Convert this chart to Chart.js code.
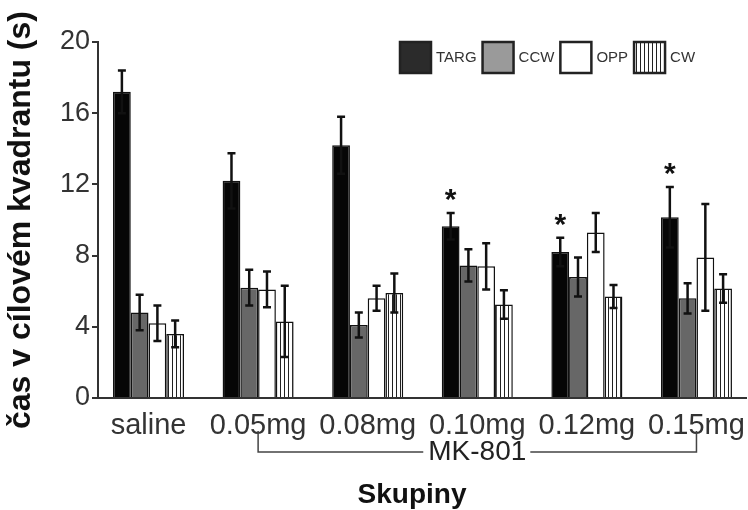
<!DOCTYPE html>
<html>
<head>
<meta charset="utf-8">
<script src="https://cdn.jsdelivr.net/npm/chart.js@4/dist/chart.umd.min.js"></script>
<style>
  html, body { margin: 0; padding: 0; background: #fff; overflow: hidden; }
  canvas { display: block; }
</style>
</head>
<body>
<canvas id="chart" width="748" height="510"></canvas>
<script>
// groups on the x axis
const groups = ['saline', '0.05mg', '0.08mg', '0.10mg', '0.12mg', '0.15mg'];
const seriesNames = ['TARG', 'CCW', 'OPP', 'CW'];

// means and error bars (s)
const targ = [17.2, 12.2, 14.2, 9.65, 8.2, 10.15];
const targErr = [1.2, 1.55, 1.6, 0.75, 0.8, 1.7];
const ccw = [4.8, 6.2, 4.1, 7.45, 6.8, 5.6];
const ccwErr = [1.0, 1.0, 0.7, 0.9, 1.1, 0.85];
const opp = [4.2, 6.1, 5.6, 7.4, 9.3, 7.9];
const oppErr = [1.0, 1.0, 0.7, 1.3, 1.1, 3.0];
const cw = [3.6, 4.3, 5.9, 5.25, 5.7, 6.15];
const cwErr = [0.75, 2.0, 1.1, 0.8, 0.65, 0.8];

// which TARG bars get a star
const significant = [false, false, false, true, true, true];

const yTicks = [0, 4, 8, 12, 16, 20];
const bracketFrom = 1; // MK-801 spans 0.05mg..0.15mg
const bracketTo = 5;

const FONT = "'Liberation Sans', Arial, sans-serif";
const ctx = document.getElementById('chart').getContext('2d');

function stripes() {
    const c = document.createElement('canvas');
    c.width = 4; c.height = 4;
    const g = c.getContext('2d');
    g.fillStyle = '#fff';
    g.fillRect(0, 0, 4, 4);
    g.fillStyle = '#222';
    g.fillRect(0, 0, 1, 4);
    return ctx.createPattern(c, 'repeat');
}
const cwPattern = stripes();

const toPoints = arr => arr.map((v, i) => ({ x: i, y: v }));
const errs = [targErr, ccwErr, oppErr, cwErr];
const legendFill = ['#2b2b2b', '#9a9a9a', '#ffffff', cwPattern];

const base = { borderColor: '#111', borderWidth: 1.5, categoryPercentage: 0.648, barPercentage: 1.0 };
const data = {
    datasets: [
        Object.assign({ label: seriesNames[0], data: toPoints(targ), backgroundColor: '#060606' }, base),
        Object.assign({ label: seriesNames[1], data: toPoints(ccw), backgroundColor: '#676767' }, base),
        Object.assign({ label: seriesNames[2], data: toPoints(opp), backgroundColor: '#ffffff' }, base),
        Object.assign({ label: seriesNames[3], data: toPoints(cw), backgroundColor: cwPattern }, base)
    ]
};

// error bars, stars
const errorBars = {
    id: 'errorBars',
    afterDatasetsDraw(chart) {
        const y = chart.scales.y;
        const c = chart.ctx;
        c.save();
        c.strokeStyle = '#111';
        c.lineWidth = 2.5;
        chart.data.datasets.forEach((ds, d) => {
            const meta = chart.getDatasetMeta(d);
            meta.data.forEach((bar, i) => {
                const v = ds.data[i].y;
                const e = errs[d][i];
                const top = y.getPixelForValue(v + e);
                const bot = y.getPixelForValue(v - e);
                c.beginPath();
                c.moveTo(bar.x, top); c.lineTo(bar.x, bot);
                c.moveTo(bar.x - 4, top); c.lineTo(bar.x + 4, top);
                c.moveTo(bar.x - 4, bot); c.lineTo(bar.x + 4, bot);
                c.stroke();
            });
        });
        // stars over TARG
        const tMeta = chart.getDatasetMeta(0);
        c.fillStyle = '#111';
        c.font = 'bold 30px ' + FONT;
        c.textAlign = 'center';
        c.textBaseline = 'alphabetic';
        significant.forEach((s, i) => {
            if (!s) return;
            const top = y.getPixelForValue(targ[i] + targErr[i]);
            c.fillText('*', tMeta.data[i].x, top - 4);
        });
        c.restore();
    },
    afterDraw(chart) {
        const c = chart.ctx;
        const x = chart.scales.x;
        c.save();
        // legend
        c.font = '15px ' + FONT;
        c.textBaseline = 'middle';
        c.textAlign = 'left';
        let lx = 400;
        seriesNames.forEach((name, i) => {
            c.fillStyle = legendFill[i];
            c.fillRect(lx, 42, 31, 31);
            c.strokeStyle = '#222';
            c.lineWidth = 2.5;
            c.strokeRect(lx, 42, 31, 31);
            c.fillStyle = '#333';
            c.fillText(name, lx + 36, 58);
            lx += 36 + c.measureText(name).width + 6;
        });

        // MK-801 bracket
        const x1 = x.getPixelForValue(bracketFrom);
        const x2 = x.getPixelForValue(bracketTo);
        const mid = (x1 + x2) / 2;
        c.font = '28px ' + FONT;
        const tw = c.measureText('MK-801').width;
        c.strokeStyle = '#444';
        c.lineWidth = 1.5;
        c.beginPath();
        c.moveTo(x1, 431); c.lineTo(x1, 452); c.lineTo(mid - tw / 2 - 5, 452);
        c.moveTo(mid + tw / 2 + 4, 452); c.lineTo(x2, 452); c.lineTo(x2, 431);
        c.stroke();
        c.fillStyle = '#222';
        c.textAlign = 'center';
        c.textBaseline = 'alphabetic';
        c.fillText('MK-801', mid, 460);

        // axis title
        c.font = 'bold 28px ' + FONT;
        c.fillStyle = '#111';
        c.fillText('Skupiny', 412, 503);
        c.restore();
    }
};

new Chart(ctx, {
    type: 'bar',
    data: data,
    plugins: [errorBars],
    options: {
        responsive: false,
        animation: false,
        devicePixelRatio: 1,
        layout: { padding: { left: 0, top: 42, right: 2, bottom: 0 } },
        plugins: { legend: { display: false }, tooltip: { enabled: false } },
        scales: {
            x: {
                type: 'linear',
                offset: false,
                min: -0.461,
                max: 5.452,
                afterBuildTicks: s => { s.ticks = groups.map((g, i) => ({ value: i })); },
                afterFit: s => { s.height = 112; },
                ticks: {
                    callback: v => groups[v],
                    font: { family: FONT, size: 29 },
                    color: '#333',
                    padding: 3,
                    maxRotation: 0,
                    autoSkip: false
                },
                grid: { display: false, offset: false },
                border: { display: true, color: '#333', width: 2 }
            },
            y: {
                min: 0,
                max: 20,
                afterBuildTicks: s => { s.ticks = yTicks.map(v => ({ value: v })); },
                afterFit: s => { s.width = 98; },
                ticks: {
                    font: { family: FONT, size: 27 },
                    color: '#333',
                    padding: 2
                },
                grid: { drawOnChartArea: false, drawTicks: true, tickLength: 6, color: '#333', lineWidth: 2 },
                border: { display: true, color: '#333', width: 2 },
                title: {
                    display: true,
                    text: 'čas v cílovém kvadrantu (s)',
                    font: { family: FONT, size: 32, weight: 'bold' },
                    color: '#111',
                    padding: { top: 2, bottom: 0 }
                }
            }
        }
    }
});
</script>
</body>
</html>
